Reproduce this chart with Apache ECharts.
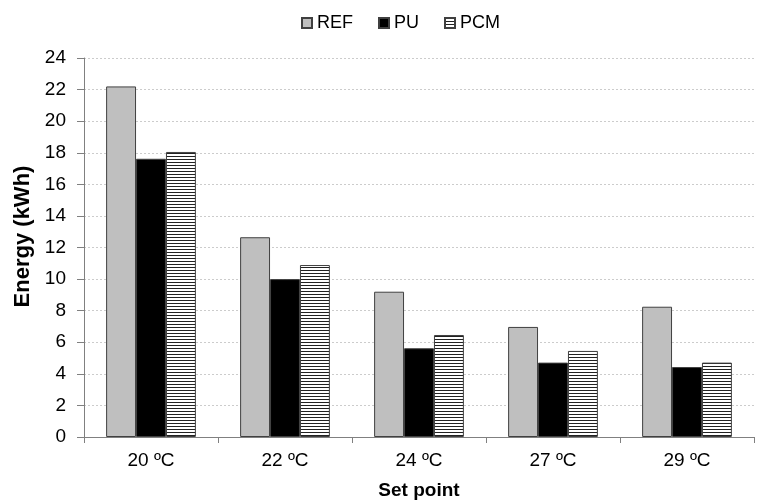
<!DOCTYPE html>
<html><head><meta charset="utf-8">
<script src="https://cdn.jsdelivr.net/npm/echarts@6/dist/echarts.min.js"></script>
<style>html,body{margin:0;padding:0;background:#fff}#c{width:766px;height:501px}</style>
</head><body><div id="c"></div>
<script>
const categories = ['20 ºC', '22 ºC', '24 ºC', '27 ºC', '29 ºC'];
const refValues = [22.2, 12.65, 9.2, 6.97, 8.25];
const puValues = [17.62, 10.0, 5.62, 4.71, 4.43];
const pcmValues = [18.05, 10.89, 6.46, 5.45, 4.71];
const yTicks = [0, 24, 2];

const pc = document.createElement('canvas');
pc.width = 4; pc.height = 3;
const g = pc.getContext('2d');
g.fillStyle = '#ffffff'; g.fillRect(0, 0, 4, 3);
g.fillStyle = '#222222'; g.fillRect(0, 0, 4, 1);

const font = 'Liberation Sans, Arial, sans-serif';
const chart = echarts.init(document.getElementById('c'));
const border = {borderColor: '#404040', borderWidth: 1};
chart.setOption({
  animation: false,
  textStyle: {fontFamily: font},
  legend: {
    top: 9, left: 296, itemWidth: 10, itemHeight: 10, itemGap: 25, icon: 'rect',
    textStyle: {fontSize: 18, color: '#000', fontFamily: font},
    data: ['REF', 'PU', 'PCM']
  },
  grid: {left: 84, right: 12, top: 58, bottom: 64, containLabel: false, outerBoundsMode: 'none'},
  xAxis: {
    type: 'category', data: categories,
    name: 'Set point', nameLocation: 'middle', nameGap: 44,
    nameTextStyle: {fontSize: 19, fontWeight: 'bold', color: '#000', fontFamily: font},
    axisLine: {lineStyle: {color: '#808080', width: 1}},
    axisTick: {show: true, alignWithLabel: false, length: 6, lineStyle: {color: '#808080'}},
    axisLabel: {fontSize: 19, color: '#000', margin: 14, fontFamily: font}
  },
  yAxis: {
    type: 'value', min: yTicks[0], max: yTicks[1], interval: yTicks[2],
    name: 'Energy (kWh)', nameLocation: 'middle', nameGap: 48,
    nameTextStyle: {fontSize: 22, fontWeight: 'bold', color: '#000', fontFamily: font, padding: [0, 0, 0, 22]},
    axisLine: {show: true, lineStyle: {color: '#808080', width: 1}},
    axisTick: {show: true, inside: false, length: 7, lineStyle: {color: '#808080'}},
    axisLabel: {fontSize: 19, color: '#000', margin: 18, fontFamily: font},
    splitLine: {show: true, lineStyle: {color: '#cccccc', type: [2, 2], width: 1}}
  },
  series: [
    {name: 'REF', type: 'bar', data: refValues, barGap: '0%', barCategoryGap: '33%',
     itemStyle: Object.assign({color: '#bfbfbf'}, border)},
    {name: 'PU', type: 'bar', data: puValues, barGap: '0%', barCategoryGap: '33%',
     itemStyle: Object.assign({color: '#000000'}, border)},
    {name: 'PCM', type: 'bar', data: pcmValues, barGap: '0%', barCategoryGap: '33%',
     itemStyle: Object.assign({color: {image: pc, repeat: 'repeat'}}, border)}
  ]
});
</script></body></html>
